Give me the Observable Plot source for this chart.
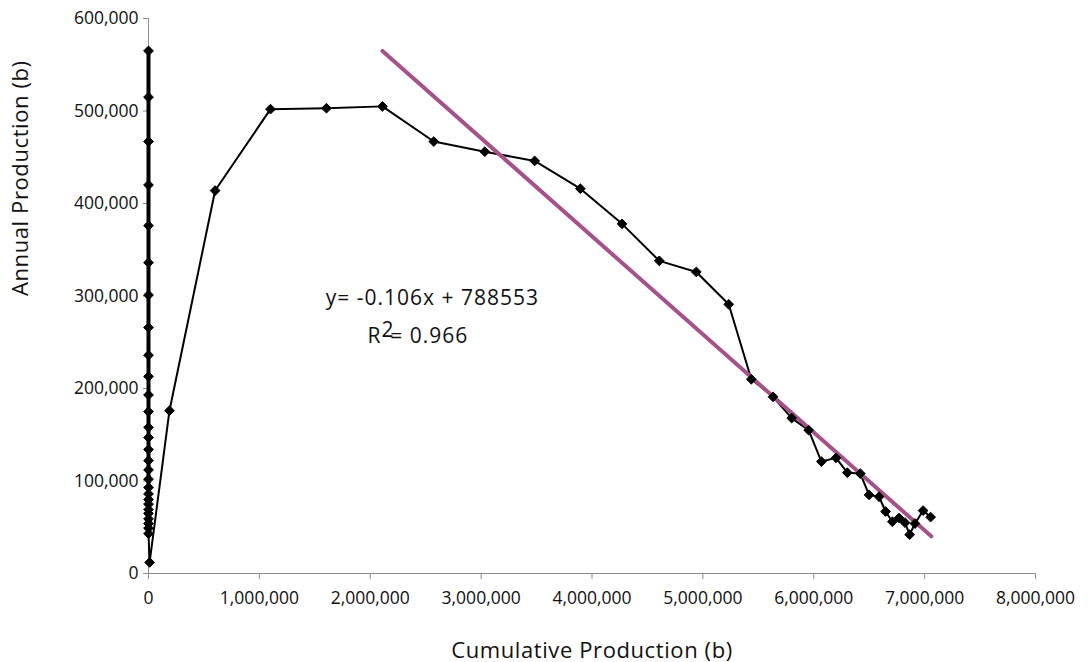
<!DOCTYPE html>
<html>
<head>
<meta charset="utf-8">
<script src="https://cdn.jsdelivr.net/npm/d3@7"></script>
<script src="https://cdn.jsdelivr.net/npm/@observablehq/plot@0.6"></script>
<style>
  html, body { margin: 0; padding: 0; background: #fff; }
  #chart svg { display: block; }
</style>
</head>
<body>
<div id="chart"></div>
<script>
// Points plotted at cumulative production 0 (annual production, barrels)
const zeroColumnAnnual = [565000, 515000, 467000, 420000, 376000, 336000, 301000, 266000,
  236000, 213000, 193000, 175000, 158000, 147000, 134000, 122000, 112000, 102000,
  93000, 86000, 80000, 75000, 69000, 65000, 59000, 54000, 49000, 43000];

// Main series: cumulative production (b) vs annual production (b)
const cumulative = [10000, 189000, 601000, 1100000, 1605000, 2110000, 2573000, 3033000,
  3483000, 3895000, 4271000, 4607000, 4941000, 5233000, 5437000, 5633000, 5801000,
  5954000, 6069000, 6201000, 6303000, 6420000, 6499000, 6589000, 6648000, 6709000,
  6769000, 6823000, 6865000, 6913000, 6986000, 7054000];
const annual = [12000, 176000, 414000, 502000, 503000, 505000, 467000, 456000,
  446000, 416000, 378000, 338000, 326000, 291000, 210000, 191000, 168000,
  155000, 121000, 125000, 109000, 108000, 85000, 83000, 67000, 56000,
  60000, 55000, 42000, 54000, 68000, 61000];

// Linear trend: y = slope * x + intercept, drawn over this x range
const trendSlope = -0.106;
const trendIntercept = 788553;
const trendRange = [2110000, 7060000];
const equationText = ["y= -0.106x + 788553", "R2= 0.966"];

const xTicks = [0, 1000000, 2000000, 3000000, 4000000, 5000000, 6000000, 7000000, 8000000];
const yTicks = [0, 100000, 200000, 300000, 400000, 500000, 600000];

const zeroPts = zeroColumnAnnual.map(v => ({x: 0, y: v}));
const mainPts = cumulative.map((c, i) => ({x: c, y: annual[i]}));
const allPts = zeroPts.concat(mainPts);
const trendPts = trendRange.map(x => ({x, y: trendSlope * x + trendIntercept}));

const fmt = d3.format(",");
const font = "'Open Sans', 'Noto Sans', sans-serif";

const plot = Plot.plot({
  width: 1088,
  height: 662,
  marginLeft: 148,
  marginRight: 53,
  marginTop: 18,
  marginBottom: 89,
  style: {fontFamily: font, fontSize: "17px", color: "#111", background: "#fff"},
  x: {domain: [0, 8000000], ticks: xTicks, tickFormat: fmt},
  y: {domain: [0, 600000], ticks: yTicks, tickFormat: fmt},
  marks: [
    Plot.axisX({ticks: xTicks, tickFormat: fmt, tickSize: 6, tickPadding: 12, stroke: "#8c8c8c", fill: "#111", fontSize: 17.5, label: null}),
    Plot.axisY({ticks: yTicks, tickFormat: fmt, tickSize: 5, tickPadding: 5, stroke: "#8c8c8c", fill: "#111", fontSize: 17.5, label: null}),
    Plot.ruleY([0], {stroke: "#8c8c8c", strokeWidth: 1}),
    Plot.ruleX([0], {stroke: "#8c8c8c", strokeWidth: 1}),
    Plot.line(zeroPts, {x: "x", y: "y", stroke: "#000", strokeWidth: 4}),
    Plot.line(allPts, {x: "x", y: "y", stroke: "#000", strokeWidth: 2}),
    Plot.line(trendPts, {x: "x", y: "y", stroke: "#A5528A", strokeWidth: 4}),
    Plot.dot(allPts, {x: "x", y: "y", symbol: "diamond2", r: 4.4, fill: "#000", stroke: "#000", strokeWidth: 1}),
    Plot.text([equationText[0]], {x: () => 2560000, y: () => 298000, text: d => d, fontSize: 21, fill: "#111", textAnchor: "middle"}),
    Plot.text([equationText[1]], {x: () => 2430000, y: () => 256000, text: d => d, fontSize: 21, fill: "#111", textAnchor: "middle"}),
    Plot.text(["Cumulative Production (b)"], {frameAnchor: "bottom", dy: 84, text: d => d, fontSize: 22, fill: "#111"}),
    Plot.text(["Annual Production (b)"], {frameAnchor: "left", dx: -128, rotate: -90, text: d => d, fontSize: 22, fill: "#111"})
  ]
});

// Widen annotation/title spacing and render the R² label with a raised "2"
d3.select(plot).selectAll("text").filter(function() {
  const s = this.textContent;
  return s === equationText[0] || s === equationText[1];
}).attr("letter-spacing", "1px");
d3.select(plot).selectAll("text").filter(function() {
  const s = this.textContent;
  return s === "Cumulative Production (b)" || s === "Annual Production (b)";
}).attr("letter-spacing", "0.6px");
d3.select(plot).selectAll("text").filter(function() { return this.textContent === equationText[1]; })
  .each(function() {
    const t = d3.select(this);
    t.text(null);
    t.append("tspan").text("R");
    t.append("tspan").attr("dy", "-0.3em").text("2");
    t.append("tspan").attr("dy", "0.3em").attr("dx", "-0.2em").text("= 0.966");
  });

document.getElementById("chart").appendChild(plot);
</script>
</body>
</html>
